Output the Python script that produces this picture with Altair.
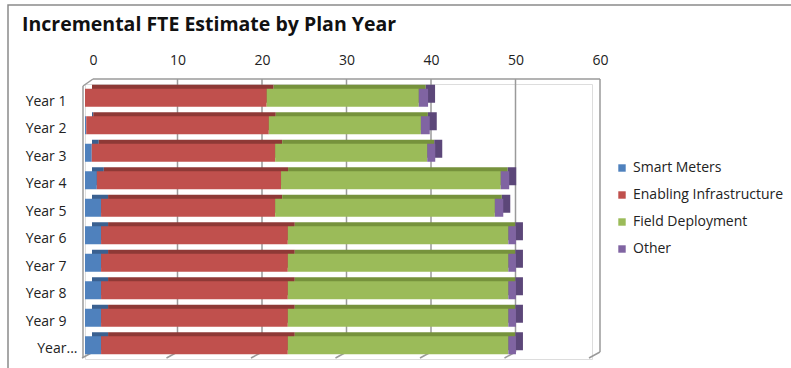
import altair as alt
import pandas as pd

years = ["Year 1", "Year 2", "Year 3", "Year 4", "Year 5",
         "Year 6", "Year 7", "Year 8", "Year 9", "Year 10"]
series = ["Smart Meters", "Enabling Infrastructure", "Field Deployment", "Other"]
smart_meters = [0.0, 0.15, 0.8, 1.4, 1.9, 1.9, 1.9, 1.9, 1.9, 1.9]
enabling_infra = [21.5, 21.6, 21.7, 21.8, 20.6, 22.1, 22.1, 22.1, 22.1, 22.1]
field_deploy = [18.0, 18.0, 18.0, 26.0, 26.0, 26.1, 26.1, 26.1, 26.1, 26.1]
other = [1.1, 1.05, 0.95, 1.0, 1.0, 0.9, 0.9, 0.9, 0.9, 0.9]
x_ticks = [0, 10, 20, 30, 40, 50, 60]
title_text = "Incremental FTE Estimate by Plan Year"

colors = ["#4F81BD", "#C0504D", "#9BBB59", "#8064A2"]
dark_colors = ["#3A6090", "#8E3936", "#76923C", "#5C4779"]

rows = []
for s_i, (name, vals) in enumerate(zip(series, [smart_meters, enabling_infra, field_deploy, other])):
    for y, v in zip(years, vals):
        rows.append({"year": y, "series": name, "value": v, "idx": s_i, "dark": dark_colors[s_i]})
df = pd.DataFrame(rows)
ticks_df = pd.DataFrame({"v": x_ticks})
grid_df = pd.DataFrame({"v": x_ticks[1:]})

FONT = "Open Sans"
FS = 14
LINE = "#9a9a9a"
xscale = alt.Scale(domain=[0, 60], nice=False, zero=True)
yscale = alt.Scale(domain=years, paddingInner=0.345, paddingOuter=0.1725)

grid = alt.Chart(grid_df).mark_rule(xOffset=8, color=LINE, strokeWidth=1.5).encode(
    x=alt.X("v:Q", scale=xscale, axis=None),
    y=alt.value(-5), y2=alt.value(268),
)
floor = alt.Chart(ticks_df).mark_rule(xOffset=8, x2Offset=-3, color=LINE, strokeWidth=1.5).encode(
    x=alt.X("v:Q", scale=xscale, axis=None), x2="v:Q",
    y=alt.value(268), y2=alt.value(274),
)
top_line = alt.Chart(pd.DataFrame({"a": [0], "b": [60]})).mark_rule(
    xOffset=8, x2Offset=8, color=LINE, strokeWidth=1.5).encode(
    x=alt.X("a:Q", scale=xscale, axis=None), x2="b:Q", y=alt.value(-5),
)
left_wall = alt.Chart(pd.DataFrame({"a": [0]})).mark_rule(
    xOffset=-2, color=LINE, strokeWidth=1.5).encode(
    x=alt.X("a:Q", scale=xscale, axis=None), y=alt.value(2), y2=alt.value(274),
)
left_slant = alt.Chart(pd.DataFrame({"a": [0]})).mark_rule(
    xOffset=-2, x2Offset=8, color=LINE, strokeWidth=1.5).encode(
    x=alt.X("a:Q", scale=xscale, axis=None), x2="a:Q", y=alt.value(2), y2=alt.value(-5),
)

depth = alt.Chart(df).mark_bar(xOffset=7, x2Offset=7, yOffset=-4, y2Offset=-4).encode(
    x=alt.X("value:Q", stack="zero", scale=xscale, axis=None),
    y=alt.Y("year:N", scale=yscale, axis=None),
    color=alt.Color("dark:N", scale=None),
    order=alt.Order("idx:Q"),
)

front = alt.Chart(df).mark_bar().encode(
    x=alt.X("value:Q", stack="zero", scale=xscale,
            axis=alt.Axis(orient="top", values=x_ticks, title=None, domain=False, ticks=False,
                          grid=False, labelOffset=8, labelPadding=17, labelFlush=False,
                          labelFont=FONT, labelFontSize=FS, labelColor="#222")),
    y=alt.Y("year:N", scale=yscale,
            axis=alt.Axis(title=None, domain=False, ticks=False, grid=False,
                          labelExpr="datum.label == 'Year 10' ? 'Year...' : datum.label",
                          labelPadding=alt.expr("datum.label == 'Year 10' ? 8 : 19"),
                          labelOffset=4, labelFont=FONT, labelFontSize=FS, labelColor="#222")),
    color=alt.Color("series:N", scale=alt.Scale(domain=series, range=colors),
                    legend=alt.Legend(title=None, orient="none", legendX=530, legendY=77,
                                      symbolType="square", symbolSize=55, symbolStrokeWidth=0,
                                      labelFont=FONT, labelFontSize=FS, labelColor="#222",
                                      rowPadding=13, labelOffset=4)),
    order=alt.Order("idx:Q"),
)

title = alt.Chart(pd.DataFrame({"t": [title_text]})).mark_text(
    align="left", baseline="alphabetic", font=FONT, fontSize=19.5, fontWeight="bold", color="#111"
).encode(text="t:N", x=alt.value(-63), y=alt.value(-53))

border = alt.Chart(pd.DataFrame({"a": [0]})).mark_rect(
    fill=None, stroke="#8a8a8a", strokeWidth=1.5).encode(
    x=alt.value(-77), x2=alt.value(712), y=alt.value(-79), y2=alt.value(290),
)

chart = alt.layer(border, grid, floor, top_line, left_wall, left_slant, depth, front, title).resolve_axis(
    x="independent", y="independent"
).properties(
    width=507, height=275,
    autosize=alt.AutoSizeParams(type="none"),
    padding={"left": 85, "top": 84, "right": 199, "bottom": 9},
).configure_view(stroke=None).configure(background="white")

chart.save("out.html", embed_options={"renderer": "svg", "actions": False})
